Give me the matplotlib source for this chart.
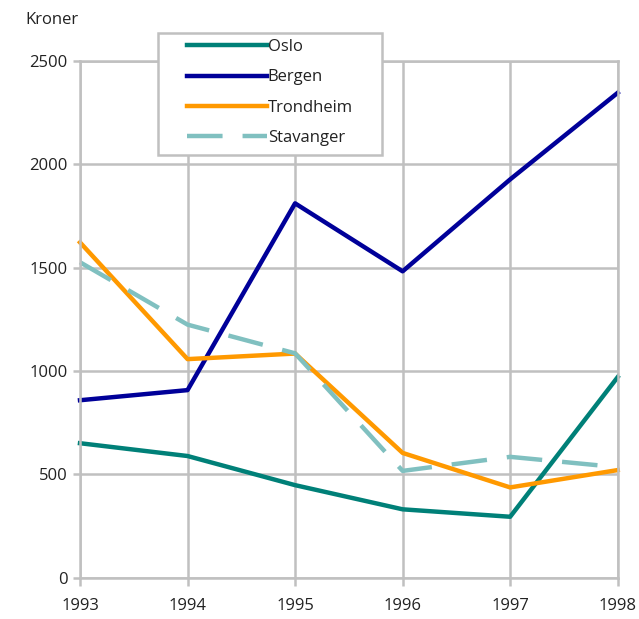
import matplotlib
matplotlib.use("Agg")
import matplotlib.pyplot as plt
from matplotlib.patches import Rectangle

years = [1993, 1994, 1995, 1996, 1997, 1998]
oslo = [650, 588, 447, 330, 294, 970]
bergen = [858, 907, 1811, 1482, 1927, 2346]
trondheim = [1622, 1057, 1084, 603, 436, 520]
stavanger = [1526, 1224, 1085, 516, 584, 534]

yticks = [0, 500, 1000, 1500, 2000, 2500]

plt.rcParams["font.family"] = ["Open Sans", "DejaVu Sans"]
grid_col = "#c0c0c0"
W, H = 639, 619

fig = plt.figure(figsize=(W / 100, H / 100), dpi=100)
ax = fig.add_axes([80 / W, 1 - 577.5 / H, (617.7 - 80) / W, (577.5 - 61) / H])

lw = 3.2
ax.plot(years, oslo, color="#008078", lw=lw, label="Oslo", clip_on=False)
ax.plot(years, bergen, color="#000099", lw=lw, label="Bergen", clip_on=False)
ax.plot(years, trondheim, color="#ff9900", lw=lw, label="Trondheim", clip_on=False)
st, = ax.plot(years, stavanger, color="#80c0c0", lw=lw, label="Stavanger", clip_on=False)
st.set_dashes((8.0, 4.5))

ax.set_xlim(1993, 1998)
ax.set_ylim(0, 2500)
ax.set_xticks(years)
ax.set_yticks(yticks)
ax.grid(True, color=grid_col, lw=1.8)
ax.set_axisbelow(True)
for s in ax.spines.values():
    s.set_color(grid_col)
    s.set_linewidth(1.8)
ax.tick_params(colors=grid_col, labelcolor="#222222", labelsize=12, width=1.8, length=5)
ax.tick_params(axis="x", length=6, pad=9)
ax.tick_params(axis="y", pad=4)

fig.text(25 / W, 1 - 20 / H, "Kroner", fontsize=12, color="#222222", va="center", ha="left")

# legend frame drawn separately so the side padding can be wider than the top/bottom padding
frame = Rectangle((158 / W, 1 - 155 / H), (382 - 158) / W, (155 - 33) / H,
                  transform=fig.transFigure, facecolor="white",
                  edgecolor=grid_col, lw=1.8, zorder=5, clip_on=False)
ax.add_patch(frame)
leg = ax.legend(loc="upper left", bbox_to_anchor=(187 / W, 1 - 39 / H),
                bbox_transform=fig.transFigure, fontsize=12, frameon=False,
                handlelength=4.8, handletextpad=0.05,
                borderpad=0.0, labelspacing=0.86, borderaxespad=0)
leg.set_zorder(6)
for t in leg.get_texts():
    t.set_color("#222222")

fig.savefig("out.png", dpi=100)
